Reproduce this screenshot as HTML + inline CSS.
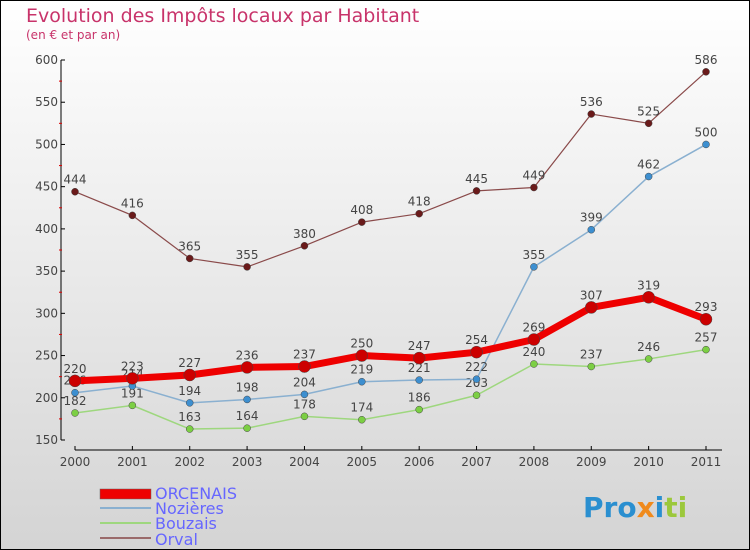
<!DOCTYPE html>
<html><head><meta charset="utf-8"><style>
body{margin:0}
#c{width:750px;height:550px;position:relative;overflow:hidden;font-family:"DejaVu Sans","Liberation Sans",sans-serif}
</style></head><body>
<div id="c">
<svg width="750" height="550" xmlns="http://www.w3.org/2000/svg">
<defs><linearGradient id="bg" x1="0" y1="0" x2="0" y2="1"><stop offset="0" stop-color="#ffffff"/><stop offset="1" stop-color="#d4d4d4"/></linearGradient></defs>
<rect x="0.5" y="0.5" width="749" height="549" fill="url(#bg)" stroke="#000"/>
<text x="26" y="22" font-size="19" fill="#c8336a">Evolution des Impôts locaux par Habitant</text>
<text x="26" y="39" font-size="12" fill="#c8336a">(en € et par an)</text>
<g id="axes"></g>
<g id="series"></g>
<g>
<rect x="100" y="489" width="51" height="10" fill="#e00" stroke="#666" stroke-width="0.5"/>
<text x="155" y="499" font-size="16" fill="#6666ff">ORCENAIS</text>
<line x1="100" y1="508" x2="151" y2="508" stroke="#8ab0d0" stroke-width="2"/>
<text x="155" y="514" font-size="16" fill="#6666ff">Nozières</text>
<line x1="100" y1="523" x2="151" y2="523" stroke="#9ed77e" stroke-width="2"/>
<text x="155" y="529" font-size="16" fill="#6666ff">Bouzais</text>
<line x1="100" y1="538" x2="151" y2="538" stroke="#9a6a6a" stroke-width="2"/>
<text x="155" y="545" font-size="16" fill="#6666ff">Orval</text>
</g>
<g font-size="28" font-weight="bold">
<text x="583" y="517"><tspan fill="#2a8fd0">Pro</tspan><tspan fill="#f08a1c">x</tspan><tspan fill="#2a8fd0">i</tspan><tspan fill="#9cc83c">ti</tspan></text>
</g>
</svg>
</div>
<script>
const years=["2000","2001","2002","2003","2004","2005","2006","2007","2008","2009","2010","2011"];
const yTicks=[150,200,250,300,350,400,450,500,550,600];
const orcenais=[220,223,227,236,237,250,247,254,269,307,319,293];
const nozieres=[206,214,194,198,204,219,221,222,355,399,462,500];
const bouzais=[182,191,163,164,178,174,186,203,240,237,246,257];
const orval=[444,416,365,355,380,408,418,445,449,536,525,586];
const NS="http://www.w3.org/2000/svg";
const x=i=>75+i*(706-75)/11;
const y=v=>60+(600-v)*(380/450);
function mk(tag,attrs,parent){const e=document.createElementNS(NS,tag);for(const k in attrs)e.setAttribute(k,attrs[k]);parent.appendChild(e);return e;}
const ax=document.getElementById('axes');
let l=mk('line',{x1:61,y1:60,x2:61,y2:440,stroke:'#000'},ax);


l=mk('line',{x1:75,y1:450,x2:722,y2:450,stroke:'#000'},ax);


yTicks.forEach((v,i)=>{
  let t=mk('line',{x1:61,y1:y(v),x2:65,y2:y(v),stroke:'#000'},ax);
  
  
  let tx=mk('text',{x:58,y:y(v)+4,'text-anchor':'end','font-size':12,fill:'#444'},ax);
  tx.textContent=v;
  
  
  if(i<yTicks.length-1){let m=mk('line',{x1:59,y1:y(v+25),x2:62,y2:y(v+25),stroke:'#d00'},ax);
  
  }
});
years.forEach((yr,i)=>{
  let t=mk('line',{x1:x(i),y1:446,x2:x(i),y2:450,stroke:'#000'},ax);
  
  
  let tx=mk('text',{x:x(i),y:466,'text-anchor':'middle','font-size':12,fill:'#444'},ax);
  tx.textContent=yr;
  
  
});
const sg=document.getElementById('series');
function series(vals,name,color,dot,w,r){
  const g=mk('g',{},sg);
  
  
  const p=mk('polyline',{points:vals.map((v,i)=>x(i)+','+y(v)).join(' '),fill:'none',stroke:color,'stroke-width':w,'stroke-linejoin':'round'},g);
  
  
  vals.forEach((v,i)=>{
    const c=mk('circle',{cx:x(i),cy:y(v),r:r,fill:dot,stroke:'#444','stroke-width':0.5},g);
    
    
    const t=mk('text',{x:x(i),y:y(v)-8,'text-anchor':'middle','font-size':12,fill:'#444'},g);
    t.textContent=v;
    
    
  });
}
series(bouzais,'bouzais','#9ed77e','#7ccf44',1.5,3.5);
series(nozieres,'nozieres','#8ab0d0','#3d8fd0',1.5,3.5);
series(orval,'orval','#8a4a4a','#6a1a1a',1.2,3.5);
series(orcenais,'orcenais','#ee0000','#cc0000',7,6);
</script>
</body></html>
